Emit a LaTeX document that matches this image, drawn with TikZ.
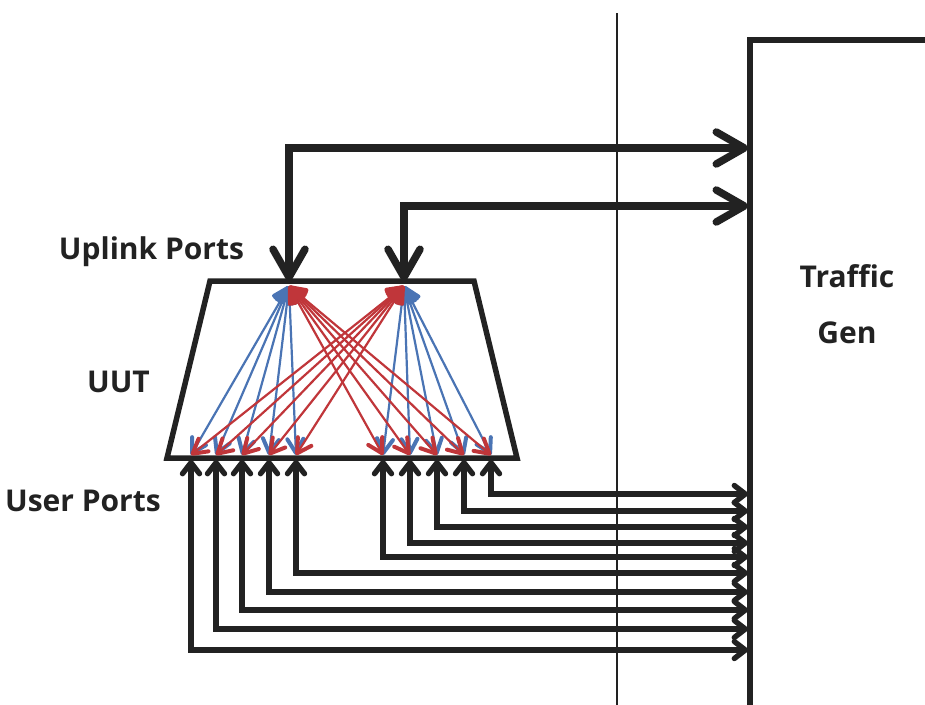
\documentclass[tikz,border=0pt]{standalone}
\usepackage{fontspec}
\setmainfont{Open Sans}
\usetikzlibrary{arrows.meta}
\definecolor{ink}{HTML}{222222}
\definecolor{lblue}{HTML}{4A74B4}
\definecolor{lred}{HTML}{C0363A}
\begin{document}
\begin{tikzpicture}[x=1pt,y=-1pt,
  lbl/.style={font=\bfseries\fontsize{30}{36}\selectfont, text=ink, inner sep=0pt},
  uutbox/.style={draw=ink, line width=5.5pt, miter limit=20},
  genbox/.style={draw=ink, line width=5.5pt},
  divider/.style={draw=ink, line width=2pt},
  uplink/.style={draw=ink, line width=7.5pt,
     {Straight Barb[round,length=28pt,width=32pt]}-{Straight Barb[round,length=28pt,width=32pt]}},
  userlink/.style={draw=ink, line width=5.4pt,
     {Straight Barb[round,length=11pt,width=17pt]}-{Straight Barb[round,length=11pt,width=17pt]}},
  samelink/.style={draw=lblue, line width=2.2pt,
     {Straight Barb[round,length=14pt,width=16pt,line width=4pt]}-{Straight Barb[round,length=14pt,width=16pt,line width=4pt]}},
  crosslink/.style={draw=lred, line width=2.2pt,
     {Straight Barb[round,length=14pt,width=16pt,line width=4pt]}-{Straight Barb[round,length=14pt,width=16pt,line width=4pt]}}
]
\useasboundingbox (0,0) rectangle (925,704);

% divider line
\coordinate (vtop) at (617,13);
\coordinate (vbot) at (617,710);
\draw[divider] (vtop) -- (vbot);

% Traffic Gen box
\draw[genbox] (940,40) -- (750,40) -- (750,720);
\node[lbl, anchor=base] (tgA) at (847,287) {Traffic};
\node[lbl, anchor=base] (tgB) at (847,343) {Gen};

% UUT trapezoid
\draw[uutbox] (210,281) -- (474,281) -- (517,458) -- (167,458) -- cycle;

% labels
\node[lbl, anchor=base] (uplbl) at (151.5,259) {Uplink Ports};
\node[lbl, anchor=base] (uutlbl) at (118.5,392) {UUT};
\node[lbl, anchor=base east] (userlbl) at (161,511) {User Ports};

% ports
\coordinate (UA) at (289,281);
\coordinate (UB) at (404,281);
\coordinate (UAi) at (289,286);
\coordinate (UBi) at (404,286);
\foreach \x [count=\i] in {191,216,242,269,296} {
  \coordinate (L\i) at (\x,460);
  \coordinate (Li\i) at (\x,455);
}
\foreach \x [count=\i] in {383,410,437,464,491} {
  \coordinate (R\i) at (\x,460);
  \coordinate (Ri\i) at (\x,455);
}
% traffic gen ends
\foreach \y [count=\i] in {650,629,610,592,573} {\coordinate (TL\i) at (748,\y);}
\foreach \y [count=\i] in {557,543,527,511,494} {\coordinate (TR\i) at (748,\y);}
\coordinate (TA) at (748,148);
\coordinate (TB) at (748,206);

% internal fabric
\foreach \i in {1,...,5} {
  \draw[samelink] (UAi) -- (Li\i);
  \draw[samelink] (UBi) -- (Ri\i);
}
\foreach \i in {1,...,5} {
  \draw[crosslink] (UAi) -- (Ri\i);
  \draw[crosslink] (UBi) -- (Li\i);
}

% uplinks
\draw[uplink] (TA) -| (UA);
\draw[uplink] (TB) -| (UB);

% user port links
\foreach \i in {1,...,5} {
  \draw[userlink] (TL\i) -| (L\i);
  \draw[userlink] (TR\i) -| (R\i);
}
\end{tikzpicture}
\end{document}
